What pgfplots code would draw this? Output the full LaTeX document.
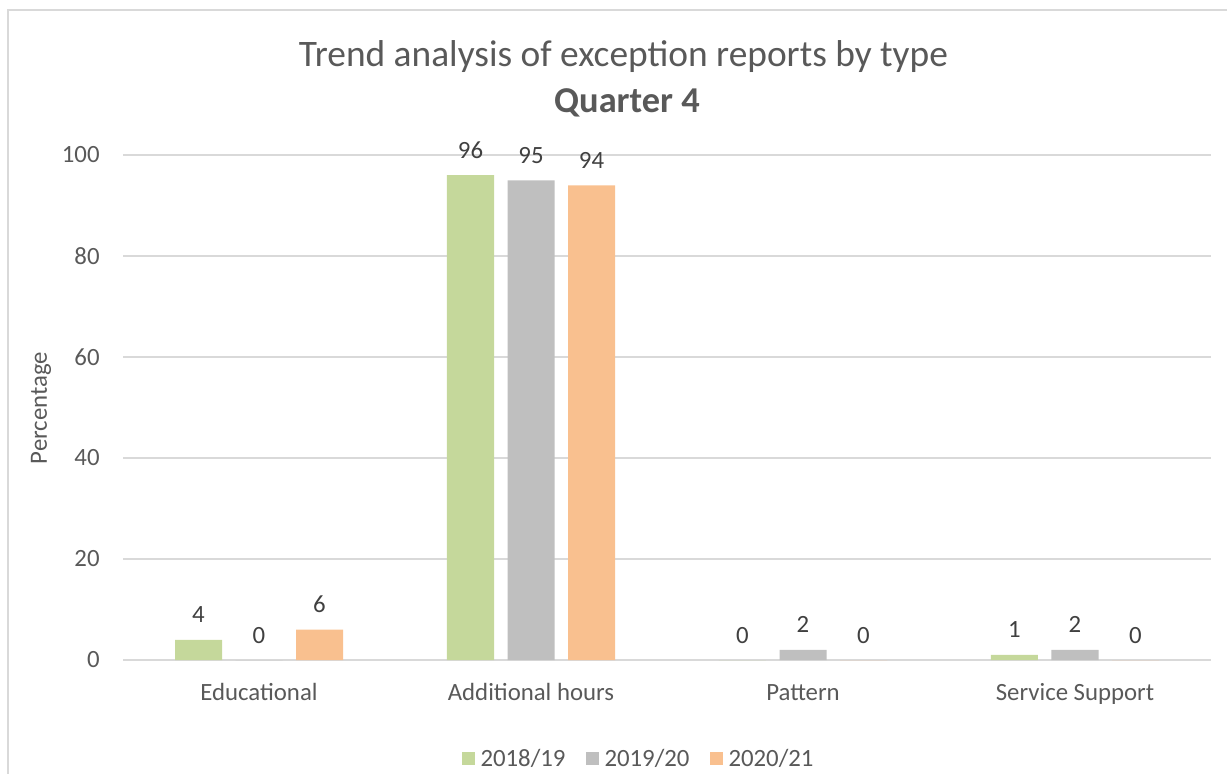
\documentclass[border=0pt]{standalone}
\usepackage{fontspec}
\setmainfont{Carlito}
\usepackage{pgfplots}
\pgfplotsset{compat=1.18}
\definecolor{gridgray}{HTML}{D9D9D9}
\definecolor{txt}{HTML}{595959}
\definecolor{lbl}{HTML}{404040}
\definecolor{cA}{HTML}{C5D89B}
\definecolor{cB}{HTML}{BFBFBF}
\definecolor{cC}{HTML}{F9C08F}
\newcommand{\tickfont}{\fontsize{12.4}{15}\selectfont}
\begin{document}
\begin{tikzpicture}
\useasboundingbox (0,0) rectangle (613.5pt,386.5pt);
% chart frame
\begin{scope}
\clip (0,0) rectangle (613.5pt,386.5pt);
\draw[gridgray, line width=0.75pt] (4pt,-20pt) rectangle (640pt,381.5pt);
\end{scope}
% titles
\node[anchor=base, text=txt, font=\fontsize{18.7}{22}\selectfont, inner sep=0pt]
  at (311.75pt,353.15pt) {Trend analysis of exception reports by type};
\node[anchor=base, text=txt, font=\fontsize{18.2}{22}\selectfont\bfseries, inner sep=0pt]
  at (313.5pt,330.25pt) {Quarter 4};
\begin{axis}[
  at={(61.5pt,56.5pt)}, anchor=south west,
  scale only axis, width=544pt, height=252.5pt,
  ybar=6.75pt, bar width=23.5pt,
  xmin=-0.5, xmax=3.5, ymin=0, ymax=100,
  xtick={0,1,2,3},
  xticklabels={Educational,Additional hours,Pattern,Service Support},
  ytick={0,20,...,100},
  /pgf/number format/assume math mode=true,
  ymajorgrids, grid style={gridgray, line width=0.75pt},
  axis line style={draw=none},
  major tick length=0pt,
  tick label style={font=\tickfont, text=txt},
  xticklabel style={anchor=base, yshift=-20pt, inner sep=0pt},
  yticklabel style={anchor=east, xshift=-11.5pt, inner sep=0pt},
  ylabel={Percentage},
  ylabel style={at={(axis description cs:-0.0754,0.499)}, anchor=center, font=\tickfont, text=txt},
  nodes near coords,
  every node near coord/.append style={anchor=base, yshift=8.5pt, inner sep=0pt, font=\tickfont, text=lbl},
  legend style={at={(rel axis cs:0.4729,-0.196)}, anchor=center, draw=none,
    font=\tickfont, text=txt, legend columns=3,
    nodes={inner sep=0pt},
    /tikz/every odd column/.append style={column sep=3pt},
    /tikz/every even column/.append style={column sep=10pt}},
  legend image code/.code={\fill[#1] (0pt,-3.25pt) rectangle (6.5pt,3.25pt);},
]
\addplot[fill=cA, draw=none] coordinates {(0,4) (1,96) (2,0) (3,1)};
\addplot[fill=cB, draw=none] coordinates {(0,0) (1,95) (2,2) (3,2)};
\addplot[fill=cC, draw=none] coordinates {(0,6) (1,94) (2,0) (3,0)};
\legend{2018/19,2019/20,2020/21}
\end{axis}
\end{tikzpicture}
\end{document}
